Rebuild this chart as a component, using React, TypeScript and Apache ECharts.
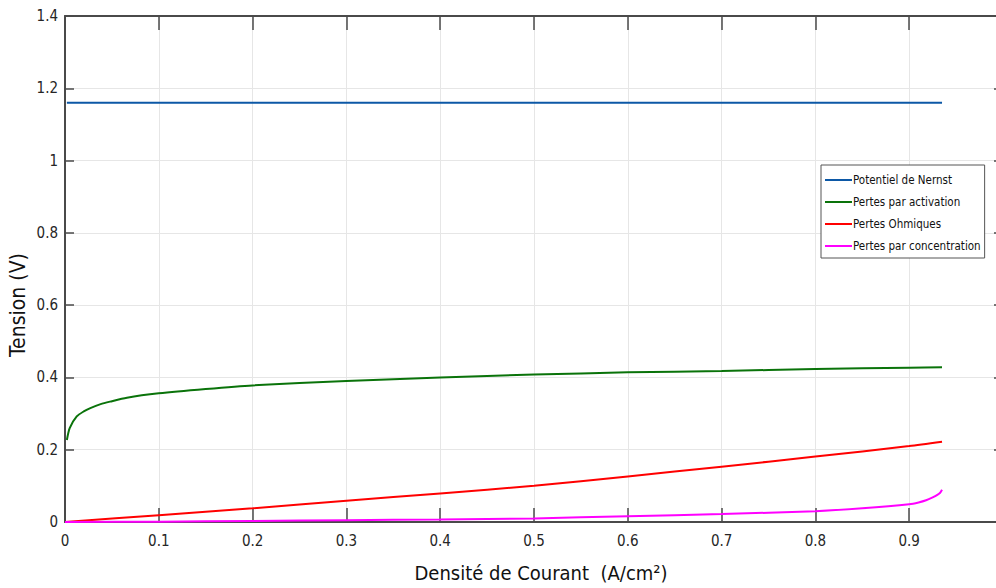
import React, { useEffect, useRef } from "react";
import * as echarts from "echarts";

// Current density (A/cm²) and the voltage terms of the fuel-cell model
const nernstX = [0.002, 0.1, 0.2, 0.3, 0.4, 0.5, 0.6, 0.7, 0.8, 0.9, 0.935];
const nernstY = [1.16, 1.16, 1.16, 1.16, 1.16, 1.16, 1.16, 1.16, 1.16, 1.16, 1.16];

const activationX = [0.002, 0.005, 0.0125, 0.02, 0.027, 0.038, 0.048, 0.066, 0.1, 0.15, 0.2, 0.3, 0.4, 0.5, 0.6, 0.7, 0.8, 0.9, 0.935];
const activationY = [0.227, 0.26, 0.292, 0.306, 0.315, 0.326, 0.333, 0.344, 0.356, 0.368, 0.378, 0.39, 0.4, 0.408, 0.414, 0.418, 0.423, 0.427, 0.428];

const ohmicX = [0, 0.1, 0.2, 0.3, 0.4, 0.5, 0.6, 0.7, 0.8, 0.9, 0.935];
const ohmicY = [0, 0.019, 0.038, 0.059, 0.079, 0.1, 0.126, 0.153, 0.181, 0.21, 0.222];

const concentrationX = [0, 0.1, 0.2, 0.3, 0.4, 0.5, 0.6, 0.7, 0.8, 0.85, 0.9, 0.91, 0.918, 0.925, 0.93, 0.933, 0.935];
const concentrationY = [0, 0.001, 0.003, 0.005, 0.007, 0.01, 0.016, 0.022, 0.03, 0.038, 0.049, 0.054, 0.06, 0.068, 0.075, 0.081, 0.089];

const seriesNames = ["Potentiel de Nernst", "Pertes par activation", "Pertes Ohmiques", "Pertes par concentration"];
const seriesColors = ["#0c58a6", "#0a730a", "#ff0000", "#ff00ff"];

const xTitle = "Densité de Courant  (A/cm²)";
const yTitle = "Tension (V)";

const FONT = "'DejaVu Sans Condensed', 'Liberation Sans', Arial, sans-serif";

const pairs = (xs: number[], ys: number[]) => xs.map((x, i) => [x, ys[i]]);

export default function App() {
  const ref = useRef<HTMLDivElement>(null);

  useEffect(() => {
    if (!ref.current) return;
    const chart = echarts.init(ref.current, undefined, { renderer: "svg" });
    const axisColor = "#4a4a4a";
    const labelStyle = { color: "#262626", fontSize: 15, fontFamily: FONT };
    const datasets = [
      pairs(nernstX, nernstY),
      pairs(activationX, activationY),
      pairs(ohmicX, ohmicY),
      pairs(concentrationX, concentrationY),
    ];

    chart.setOption({
      animation: false,
      backgroundColor: "#ffffff",
      // the axes box runs slightly past the right edge of the page, as in the exported figure
      grid: { left: 65, top: 16, right: 7, bottom: 66, containLabel: false },
      xAxis: [
        {
          type: "value",
          position: "bottom",
          min: 0,
          max: 1,
          interval: 0.1,
          axisLine: { show: true, onZero: false, lineStyle: { color: axisColor, width: 2 } },
          axisTick: { show: true, inside: true, length: 14, lineStyle: { color: axisColor, width: 1.5 } },
          axisLabel: { ...labelStyle, margin: 11, showMaxLabel: false },
          splitLine: { show: true, lineStyle: { color: "#e6e6e6", width: 1 } },
        },
        {
          type: "value",
          position: "top",
          min: 0,
          max: 1,
          interval: 0.1,
          axisLine: { show: true, onZero: false, lineStyle: { color: axisColor, width: 2 } },
          axisTick: { show: true, inside: true, length: 14, lineStyle: { color: axisColor, width: 1.5 } },
          axisLabel: { show: false },
          splitLine: { show: false },
        },
      ],
      yAxis: [
        {
          type: "value",
          position: "left",
          min: 0,
          max: 1.4,
          interval: 0.2,
          axisLine: { show: true, onZero: false, lineStyle: { color: axisColor, width: 2 } },
          axisTick: { show: true, inside: true, length: 9, lineStyle: { color: axisColor, width: 1.5 } },
          axisLabel: { ...labelStyle, margin: 7 },
          splitLine: { show: true, lineStyle: { color: "#e6e6e6", width: 1 } },
        },
        {
          type: "value",
          position: "right",
          min: 0,
          max: 1.4,
          interval: 0.2,
          axisLine: { show: true, onZero: false, lineStyle: { color: axisColor, width: 2 } },
          axisTick: { show: true, inside: true, length: 9, lineStyle: { color: axisColor, width: 1.5 } },
          axisLabel: { show: false },
          splitLine: { show: false },
        },
      ],
      legend: {
        orient: "vertical",
        left: 821,
        top: 165,
        data: seriesNames,
        icon: "rect",
        itemWidth: 27,
        itemHeight: 2,
        itemGap: 10,
        padding: [9, 4, 6, 4],
        backgroundColor: "#ffffff",
        borderColor: "#555555",
        borderWidth: 1,
        borderRadius: 0,
        textStyle: { color: "#111111", fontSize: 11.5, fontFamily: FONT, padding: [0, 0, 0, -4] },
      },
      graphic: [
        {
          type: "text",
          x: 18,
          y: 305,
          rotation: Math.PI / 2,
          style: {
            text: yTitle,
            fill: "#111111",
            font: `21px ${FONT}`,
            textAlign: "center",
            textVerticalAlign: "middle",
          },
        },
        {
          type: "text",
          x: 541,
          y: 573,
          style: {
            text: xTitle,
            fill: "#111111",
            font: `20px ${FONT}`,
            textAlign: "center",
            textVerticalAlign: "middle",
          },
        },
      ],
      series: datasets.map((data, i) => ({
        name: seriesNames[i],
        type: "line",
        data,
        xAxisIndex: 0,
        yAxisIndex: 0,
        showSymbol: false,
        symbol: "none",
        smooth: 0.25,
        color: seriesColors[i],
        lineStyle: { color: seriesColors[i], width: 2 },
        z: 3,
      })),
    });

    return () => chart.dispose();
  }, []);

  return (
    <div
      ref={ref}
      style={{ position: "fixed", left: 0, top: 0, width: 1010, height: 588 }}
    />
  );
}
